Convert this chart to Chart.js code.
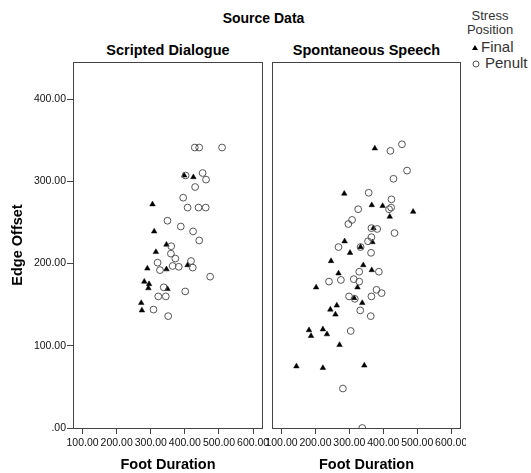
<!DOCTYPE html>
<html>
<head>
<meta charset="utf-8">
<script src="https://cdn.jsdelivr.net/npm/chart.js@4/dist/chart.umd.min.js"></script>
<style>
  html, body { margin: 0; padding: 0; background: #fff; }
  body { width: 531px; height: 473px; position: relative; overflow: hidden; font-family: "Liberation Sans", Arial, sans-serif; }
  .abs { position: absolute; white-space: nowrap; }
  canvas { position: absolute; }
</style>
</head>
<body>
<div class="abs" id="title" style="left:0;width:527px;top:10px;text-align:center;font-weight:bold;font-size:14px;color:#000;">Source Data</div>
<div class="abs" style="left:73px;width:190px;top:42px;text-align:center;font-weight:bold;font-size:14.5px;color:#000;">Scripted Dialogue</div>
<div class="abs" style="left:272px;width:189px;top:42px;text-align:center;font-weight:bold;font-size:14.5px;color:#000;">Spontaneous Speech</div>
<div class="abs" style="left:460px;width:60px;top:9px;text-align:center;font-size:13px;line-height:14px;color:#333;">Stress<br>Position</div>
<div class="abs" style="left:470px;top:38px;font-size:15px;line-height:18px;color:#333;">
  <svg width="10" height="10" style="vertical-align:0px"><polygon points="5,3 8,8 2,8" fill="#000"/></svg><span style="margin-left:1px">Final</span>
</div>
<div class="abs" style="left:471px;top:54px;font-size:15px;line-height:18px;color:#333;">
  <svg width="10" height="10" style="vertical-align:-1px"><circle cx="5" cy="5" r="3" fill="none" stroke="#555" stroke-width="1"/></svg><span style="margin-left:4px">Penult</span>
</div>
<canvas id="c1" style="left:0;top:0;width:268px;height:474px;" width="268" height="474"></canvas>
<canvas id="c2" style="left:266px;top:0;width:200px;height:474px;" width="200" height="474"></canvas>
<script>
// ---- Data ----
const xTicks = [100, 200, 300, 400, 500, 600];
const yTicks = [0, 100, 200, 300, 400];

const scriptedFinalX = [398, 425, 305, 310, 346, 315, 290, 346, 408, 281, 295, 293, 349, 272, 274];
const scriptedFinalY = [307, 305, 272, 239, 223, 214, 194, 193, 198, 178, 175, 170, 169, 152, 143];

const scriptedPenultX = [429, 442, 509, 402, 452, 462, 430, 395, 408, 440, 461, 349, 388, 424, 442, 360, 359, 372, 320, 418, 327, 364, 382, 423, 474, 338, 401, 322, 344, 308, 351];
const scriptedPenultY = [341, 341, 341, 307, 310, 302, 293, 280, 268, 268, 268, 252, 245, 239, 228, 221, 212, 206, 201, 203, 192, 197, 196, 195, 184, 171, 166, 160, 160, 144, 136];

const spontFinalX = [375, 285, 366, 398, 488, 419, 371, 286, 368, 333, 302, 246, 341, 268, 366, 202, 324, 314, 338, 263, 244, 259, 181, 187, 222, 234, 271, 144, 222, 344];
const spontFinalY = [340, 285, 271, 270, 263, 257, 243, 227, 226, 220, 213, 203, 198, 188, 192, 171, 171, 158, 152, 149, 144, 138, 119, 112, 120, 114, 101, 75, 73, 76];

const spontPenultX = [455, 421, 470, 430, 357, 424, 417, 423, 326, 308, 297, 365, 382, 433, 365, 355, 268, 333, 364, 329, 387, 240, 275, 313, 329, 380, 395, 365, 299, 316, 332, 363, 304, 281, 338];
const spontPenultY = [345, 337, 313, 303, 286, 278, 266, 268, 266, 253, 248, 243, 242, 237, 232, 227, 220, 220, 213, 190, 190, 178, 180, 181, 178, 168, 164, 160, 160, 157, 143, 136, 118, 48, 0];

const toPts = (xs, ys) => xs.map((x, i) => ({ x: x, y: ys[i] }));

const FONT = "'Liberation Sans', Arial, sans-serif";
const AXIS_COLOR = '#444';

const boxPlugin = {
  id: 'box',
  afterDraw(chart) {
    const a = chart.chartArea, c = chart.ctx;
    c.save();
    c.strokeStyle = AXIS_COLOR;
    c.lineWidth = 1;
    c.strokeRect(Math.round(a.left) + 0.5, Math.round(a.top) + 0.5, Math.round(a.right - a.left) - 1, Math.round(a.bottom - a.top));
    c.restore();
  }
};

function makeChart(id, finalPts, penultPts, showY, yWidth) {
  return new Chart(document.getElementById(id), {
    type: 'scatter',
    data: {
      datasets: [
        { label: 'Penult', data: penultPts, pointStyle: 'circle', pointRadius: 3.4, pointHoverRadius: 3.4,
          borderColor: '#555', backgroundColor: 'rgba(255,255,255,0)', pointBorderWidth: 1 },
        { label: 'Final', data: finalPts, pointStyle: 'triangle', pointRadius: 3.2, pointHoverRadius: 3.2,
          borderColor: '#000', backgroundColor: '#000', pointBorderWidth: 0.5 }
      ]
    },
    options: {
      responsive: false,
      animation: false,
      events: [],
      layout: { padding: { left: 0, top: 62, right: 5, bottom: 0 } },
      plugins: { legend: { display: false }, tooltip: { enabled: false }, title: { display: false } },
      scales: {
        x: {
          type: 'linear', min: 72, max: 629,
          afterBuildTicks: (axis) => { axis.ticks = xTicks.map(v => ({ value: v })); },
          afterFit: (scale) => { scale.height = 46; scale.paddingLeft = 0; scale.paddingRight = 0; },
          grid: { drawOnChartArea: false, drawTicks: true, tickLength: 6, color: AXIS_COLOR },
          border: { display: false },
          ticks: { color: '#111', font: { family: FONT, size: 10.5 }, padding: 3, maxRotation: 0, autoSkip: false,
                   callback: (v) => v.toFixed(2) },
          title: { display: true, text: 'Foot Duration', color: '#000', font: { family: FONT, size: 14.5, weight: 'bold' }, padding: { top: 0, bottom: 0 } }
        },
        y: {
          type: 'linear', min: 0, max: 445,
          afterBuildTicks: (axis) => { axis.ticks = yTicks.map(v => ({ value: v })); },
          afterFit: (scale) => { scale.width = yWidth; scale.paddingTop = 0; scale.paddingBottom = 0; },
          grid: { drawOnChartArea: false, drawTicks: showY, tickLength: 6, color: AXIS_COLOR },
          border: { display: false },
          ticks: { display: showY, color: '#111', font: { family: FONT, size: 10.5 }, padding: 1,
                   callback: (v) => v === 0 ? '.00' : v.toFixed(2) },
          title: { display: showY, text: 'Edge Offset', color: '#000', font: { family: FONT, size: 14.5, weight: 'bold' }, padding: { top: 9, bottom: 0 } }
        }
      }
    },
    plugins: [boxPlugin]
  });
}

makeChart('c1', toPts(scriptedFinalX, scriptedFinalY), toPts(scriptedPenultX, scriptedPenultY), true, 73);
makeChart('c2', toPts(spontFinalX, spontFinalY), toPts(spontPenultX, spontPenultY), false, 6);
</script>
</body>
</html>
